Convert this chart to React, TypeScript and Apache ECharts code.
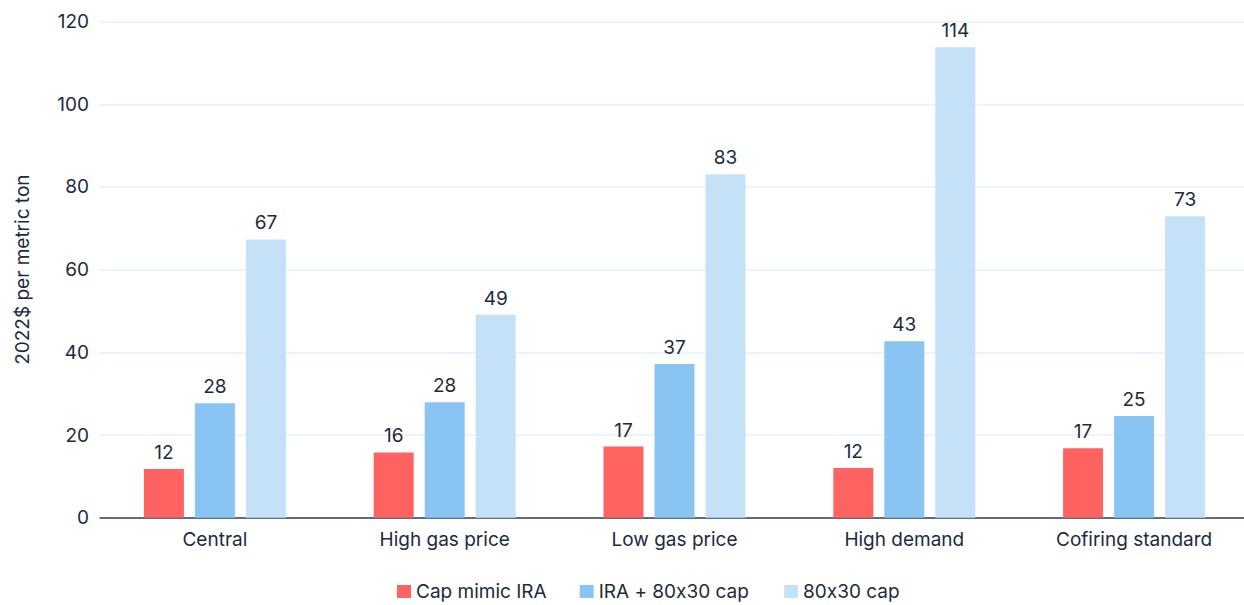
import React, { useEffect, useRef } from "react";
import * as echarts from "echarts";

const categories = ["Central", "High gas price", "Low gas price", "High demand", "Cofiring standard"];
const seriesNames = ["Cap mimic IRA", "IRA + 80x30 cap", "80x30 cap"];
const capMimicIRA = [11.8, 15.8, 17.2, 12.0, 16.8];
const iraPlusCap = [27.7, 27.9, 37.2, 42.7, 24.6];
const cap80x30 = [67.3, 49.1, 83.1, 113.8, 72.9];
const yTicks = { min: 0, max: 120, interval: 20 };

const colors = ["#FF6361", "#8AC4F3", "#C5E1F7"];
const textColor = "#1B2B40";
const fontFamily = "Inter, 'Noto Sans', sans-serif";
const fontSize = 19;

export default function App() {
  const ref = useRef<HTMLDivElement>(null);

  useEffect(() => {
    document.body.style.margin = "0";
    const chart = echarts.init(ref.current!, undefined, { renderer: "svg" });
    const values = [capMimicIRA, iraPlusCap, cap80x30];
    chart.setOption({
      animation: false,
      textStyle: { fontFamily, color: textColor },
      // the plot area runs slightly past the right edge of the visible frame
      grid: { left: 100, right: 1, top: 21.6, bottom: 87.3 },
      legend: {
        data: seriesNames,
        left: 397,
        top: 582,
        padding: 0,
        itemWidth: 14,
        itemHeight: 13,
        itemGap: 33,
        icon: "rect",
        textStyle: { fontFamily, fontSize, color: textColor },
      },
      xAxis: {
        type: "category",
        data: categories,
        axisLine: { lineStyle: { color: "#2E4158", width: 1.5 } },
        axisTick: { show: false },
        axisLabel: { fontFamily, fontSize, color: textColor, margin: 12 },
      },
      yAxis: {
        type: "value",
        min: yTicks.min,
        max: yTicks.max,
        interval: yTicks.interval,
        name: "2022$ per metric ton",
        nameLocation: "middle",
        nameGap: 68,
        nameTextStyle: { fontFamily, fontSize, color: textColor },
        axisLine: { show: false },
        axisTick: { show: false },
        axisLabel: { fontFamily, fontSize, color: textColor, margin: 11 },
        splitLine: { lineStyle: { color: "#E4F0FB", width: 1.5 } },
      },
      series: seriesNames.map((name, i) => ({
        name,
        type: "bar",
        data: values[i],
        barWidth: 40,
        barGap: "27.5%",
        itemStyle: { color: colors[i] },
        label: {
          show: true,
          position: "top",
          distance: 7,
          fontFamily,
          fontSize,
          color: textColor,
          formatter: (p: any) => String(Math.round(p.value)),
        },
      })),
    });
    return () => chart.dispose();
  }, []);

  return (
    <div style={{ width: 1244, height: 605, overflow: "hidden" }}>
      <div
        ref={ref}
        style={{ width: 1250, height: 605, fontFeatureSettings: '"calt" 0' }}
      />
    </div>
  );
}
